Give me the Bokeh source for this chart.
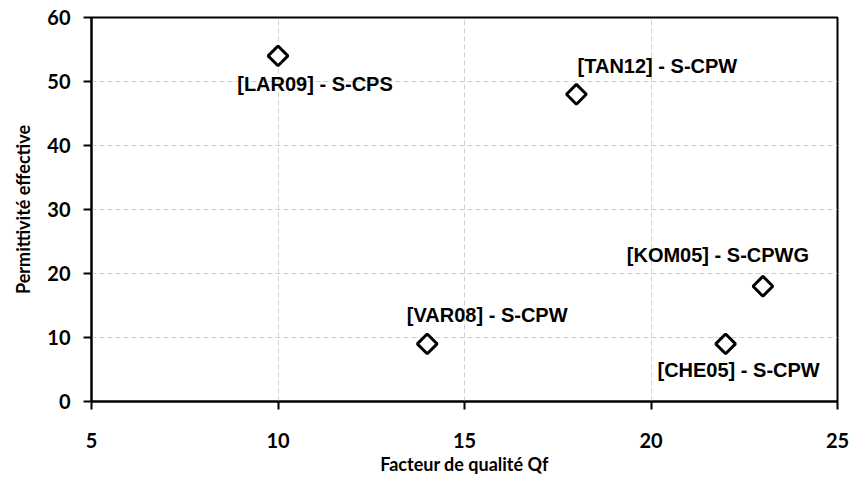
from bokeh.plotting import figure
from bokeh.models import Range1d, ColumnDataSource, FixedTicker
from bokeh.core.properties import value
from bokeh.embed import file_html
from bokeh.resources import INLINE
import numpy as np

# Data
qf = [10, 18, 14, 23, 22]
permittivity = [54, 48, 9, 18, 9]
labels = ["[LAR09] - S-CPS", "[TAN12] - S-CPW", "[VAR08] - S-CPW",
          "[KOM05] - S-CPWG", "[CHE05] - S-CPW"]
x_ticks = [5, 10, 15, 20, 25]
y_ticks = [0, 10, 20, 30, 40, 50, 60]

# label placement (pixels)
label_dx = [37, 81, 60, -45, 13]
label_dy = [28, -28, -29, -31, 26]

src = ColumnDataSource(dict(x=qf, y=permittivity, label=labels,
                            dx=label_dx, dy=label_dy))

p = figure(width=851, height=477, output_backend="svg", toolbar_location=None,
           x_range=Range1d(5, 25), y_range=Range1d(0, 60),
           min_border_left=91, min_border_top=17, min_border_right=14,
           min_border_bottom=75)
p.background_fill_color = "white"
p.border_fill_color = "white"
p.outline_line_color = "black"
p.outline_line_width = 2

for ax in (p.xaxis[0], p.yaxis[0]):
    ax.axis_line_color = "black"
    ax.axis_line_width = 2
    ax.major_tick_line_color = "black"
    ax.major_tick_line_width = 2
    ax.major_tick_in = 0
    ax.major_tick_out = 8
    ax.minor_tick_line_color = None
    ax.major_label_text_font = "Lato"
    ax.major_label_text_font_style = "bold"
    ax.major_label_text_font_size = "20px"
    ax.major_label_text_color = "black"
    ax.axis_label_text_font = "Lato"
    ax.axis_label_text_font_style = "bold"
    ax.axis_label_text_font_size = "18px"
    ax.axis_label_text_color = "black"

p.xaxis.ticker = FixedTicker(ticks=x_ticks)
p.yaxis.ticker = FixedTicker(ticks=y_ticks)
p.xaxis.axis_label = "Facteur de qualité Qf"
p.yaxis.axis_label = "Permittivité effective"
p.xaxis.major_label_standoff = 23
p.yaxis.major_label_standoff = 13
p.xaxis.axis_label_standoff = 2
p.yaxis.axis_label_standoff = 10

p.grid.grid_line_color = "#d0d0d0"
p.grid.grid_line_dash = "5 3"
p.grid.grid_line_width = 1

p.scatter("x", "y", source=src, marker="square", angle=np.pi / 4, size=14,
          fill_color="white", line_color="black", line_width=3)

p.text("x", "y", text="label", source=src, x_offset="dx", y_offset="dy",
       text_align="center", text_baseline="middle",
       text_font=value("Liberation Sans"), text_font_style="bold",
       text_font_size="20px", text_color="black")

open("out.html", "w").write(file_html(p, INLINE))
